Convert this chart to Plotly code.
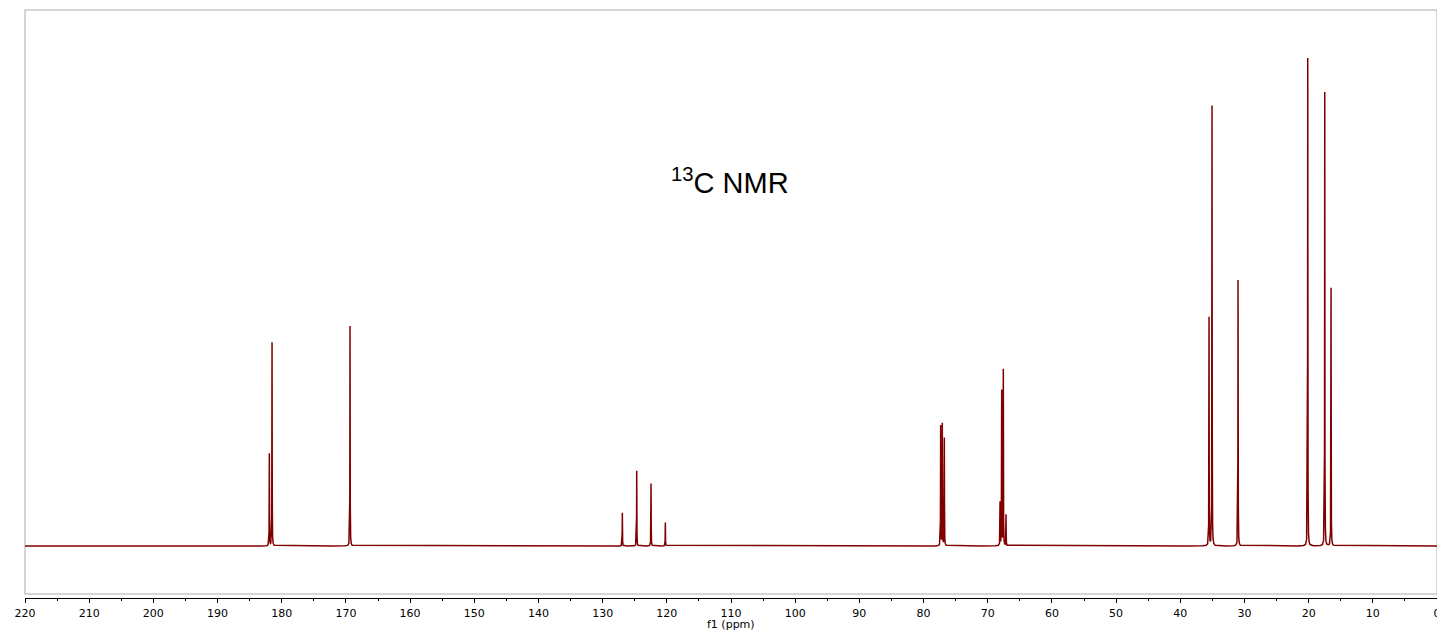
import numpy as np
import plotly.graph_objects as go

# Peak list (ppm, relative intensity; tallest = 100)
peak_ppm = [181.93, 181.51, 169.36, 126.93, 124.69, 122.46, 120.23,
            77.33, 77.08, 76.76, 68.08, 67.82, 67.57, 67.15,
            35.52, 35.05, 31.00, 20.14, 17.49, 16.51]
peak_height = [18.9, 41.7, 45.1, 6.8, 15.4, 12.8, 4.8,
               24.6, 25.0, 22.1, 8.9, 31.8, 36.1, 6.4,
               46.8, 90.2, 54.5, 100.0, 93.0, 52.9]
tick_vals = list(range(0, 221, 10))
tick_text = [str(v) for v in tick_vals]
x_title = "f1 (ppm)"
label = "<sup>13</sup>C NMR"

# Render the peak list as Lorentzian lines
hwhm = 0.02
x = np.union1d(np.arange(0.0, 220.0001, 0.005), np.array(peak_ppm))
y = np.zeros_like(x)
for p, h in zip(peak_ppm, peak_height):
    y += h / (1.0 + ((x - p) / hwhm) ** 2)

fig = go.Figure()
fig.add_trace(go.Scatter(x=x, y=y, mode="lines",
                         line=dict(color="#800000", width=1.5),
                         hoverinfo="skip", showlegend=False))

# page body has an 8px margin, so the figure is sized to the remaining window
fig.update_layout(
    width=1437, height=624,
    margin=dict(l=17, r=8, t=2, b=34, autoexpand=False),
    paper_bgcolor="white", plot_bgcolor="white",
    xaxis=dict(range=[220, -0.0001], showgrid=False, zeroline=False,
               automargin=False,
               showline=True, linecolor="black", linewidth=1,
               ticks="outside", ticklen=4, tickwidth=1, tickcolor="black",
               tickvals=tick_vals, ticktext=tick_text,
               ticklabelstandoff=1, ticklabeloverflow="allow",
               tickfont=dict(family="DejaVu Sans", size=11, color="black"),
               minor=dict(dtick=5, ticks="outside", ticklen=2, tickcolor="black", showgrid=False)),
    yaxis=dict(range=[-10.66, 109.84], visible=False, showgrid=False,
               zeroline=False, automargin=False),
    shapes=[dict(type="rect", xref="paper", yref="paper",
                 x0=0, x1=1, y0=0.0068, y1=1,
                 line=dict(color="#c8c8c8", width=1.5), layer="below")],
    annotations=[
        dict(text=label, x=0.499, y=0.71, xref="paper", yref="paper",
             xanchor="center", yanchor="middle", showarrow=False,
             font=dict(family="Liberation Sans", size=29, color="black")),
        dict(text=x_title, x=0.5, y=-0.0455, xref="paper", yref="paper",
             xanchor="center", yanchor="middle", showarrow=False,
             font=dict(family="DejaVu Sans", size=11, color="black")),
    ],
)

fig.write_html("out.html")
